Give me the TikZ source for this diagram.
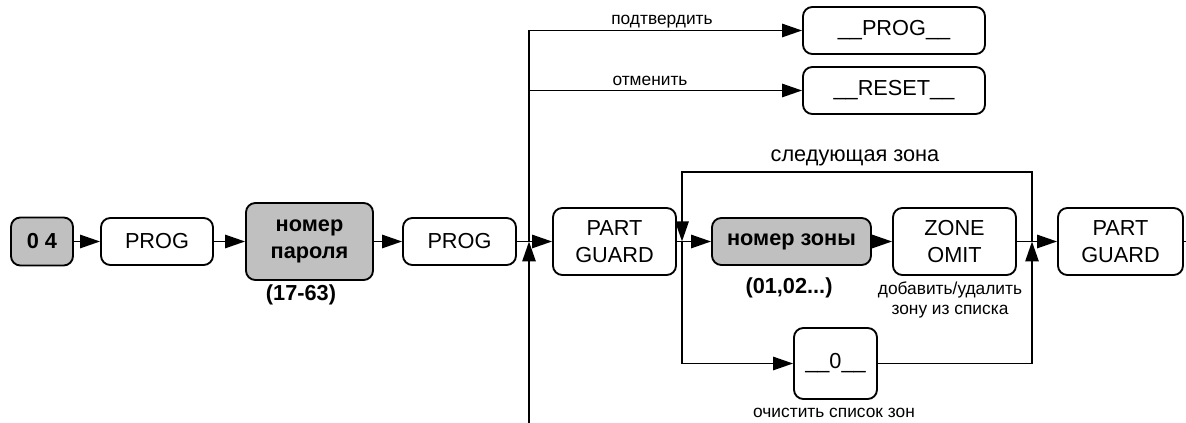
\documentclass[tikz,border=0pt]{standalone}
\usepackage{fontspec}
\setmainfont{Liberation Sans}
\usetikzlibrary{arrows.meta}
\definecolor{boxgray}{RGB}{192,192,192}
\begin{document}
\begin{tikzpicture}[x=0.75pt,y=-0.75pt,
  sz/.style 2 args={minimum width=#1*0.75pt, minimum height=#2*0.75pt},
  box/.style={draw, line width=1.4pt, rounded corners=7pt, align=center, inner sep=0pt,
    font=\fontsize{16.3}{20}\selectfont},
  gbox/.style={box, fill=boxgray, font=\fontsize{16.3}{20}\selectfont\bfseries},
  arr/.style={line width=1.4pt, -{Triangle[length=15pt,width=10pt]}},
  ln/.style={line width=1.4pt},
  lbl/.style={inner sep=0pt, align=center, font=\fontsize{13}{15}\selectfont},
  blbl/.style={inner sep=0pt, font=\fontsize{16.3}{20}\selectfont\bfseries},
  mlbl/.style={inner sep=0pt, font=\fontsize{16.3}{20}\selectfont}]
\useasboundingbox (0,0) rectangle (1186,423);

% nodes
\node[gbox, sz={62}{48}]  (b04)    at (42,241.5)    {0 4};
\node[box,  sz={112}{47}] (prog1)  at (157,241.5)   {PROG};
\node[gbox, sz={127}{77}] (pass)   at (309.5,241.5) {номер\\пароля};
\node[box,  sz={113}{47}] (prog2)  at (459.5,241.5) {PROG};
\node[box,  sz={123}{67}] (pg1)    at (614.5,241.5) {PART\\GUARD};
\node[gbox, sz={159}{47}] (zone)   at (791.5,241.5) {номер зоны};
\node[box,  sz={123}{67}] (omit)   at (954.5,241.5) {ZONE\\OMIT};
\node[box,  sz={125}{67}] (pg2)    at (1120.5,241.5){PART\\GUARD};
\node[box,  sz={182}{47}] (ptop)   at (894,30.5)    {\_\_PROG\_\_};
\node[box,  sz={182}{47}] (reset)  at (894,90.5)    {\_\_RESET\_\_};
\node[box,  sz={83}{71}]  (zero)   at (835.5,363.5) {\_\_0\_\_};

% labels
\node[blbl] (l1763) at (301,295) {(17-63)};
\node[blbl] (l0102) at (789,288) {(01,02...)};
\node[lbl]  (ladd)  at (950,300) {добавить/удалить\\зону из списка};
\node[lbl]  (lclr)  at (834,413) {очистить список зон};
\node[lbl]  (lconf) at (662,22)  {подтвердить};
\node[lbl]  (lcanc) at (650,81)  {отменить};
\node[mlbl] (lnext) at (855,158) {следующая зона};

% coordinates
\coordinate (j1)   at (529,241.5);
\coordinate (bot)  at (529,423);
\coordinate (j2)   at (682,241.5);
\coordinate (j3)   at (1032,241.5);
\coordinate (lt)   at (682,172);
\coordinate (rt)   at (1032,172);
\coordinate (rend) at (1186,241.5);

% connectors
\draw[arr] (b04) -- (prog1);
\draw[arr] (prog1) -- (pass);
\draw[arr] (pass) -- (prog2);
\draw[arr] (prog2) -- (pg1);
\draw[arr] (j1) |- (ptop.west);
\draw[arr] (j1) |- (reset.west);
\draw[arr] (bot) -- (j1);
\draw[arr] (pg1) -- (zone);
\draw[arr] (zone) -- (omit);
\draw[arr] (omit) -- (pg2);
\draw[ln]  (pg2.east) -- (rend);
\draw[arr] (j3) -- (rt) -- (lt) -- (j2);
\draw[arr] (j2) |- (zero.west);
\draw[arr] (zero.east) -| (j3);
\end{tikzpicture}
\end{document}
